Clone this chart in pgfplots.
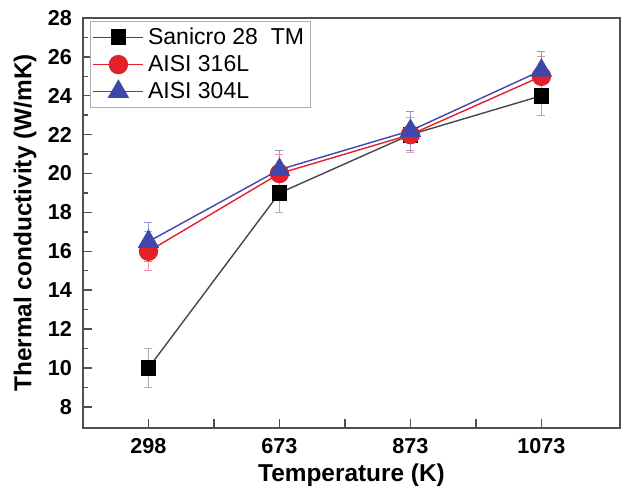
\documentclass[border=0pt]{standalone}
\usepackage{fontspec}
\setmainfont{Liberation Sans}
\setsansfont{Liberation Sans}
\usepackage{pgfplots}
\pgfplotsset{compat=1.18}
\definecolor{cred}{RGB}{228,32,40}
\definecolor{cblue}{RGB}{62,72,170}
\definecolor{lred}{RGB}{240,150,160}
\definecolor{lblue}{RGB}{150,150,210}
\definecolor{lgray}{RGB}{175,175,175}
\definecolor{axc}{RGB}{80,80,80}
\begin{document}
\begin{tikzpicture}
\begin{axis}[
  name=ax,
  scale only axis,
  width=268.5pt, height=205pt,
  xmin=-0.5, xmax=3.6,
  ymin=6.91, ymax=28,
  xtick={0,1,2,3},
  xticklabels={298,673,873,1073},
  extra x ticks={0.5,1.5,2.5},
  extra x tick labels={},
  ytick={8,10,...,28},
  minor ytick={9,11,...,27},
  xtick pos=bottom, ytick pos=left,
  tick style={axc, line width=0.7pt},
  tick align=inside,
  major tick length=4.5pt, minor tick length=2.5pt,
  axis line style={axc, line width=0.8pt},
  tick label style={font=\bfseries\fontsize{10.8}{12}\selectfont},
  xticklabel style={yshift=-1.5pt},
  yticklabel style={xshift=-2pt},
  /pgf/number format/assume math mode=true,
  xlabel={\bfseries Temperature (K)},
  ylabel={\bfseries Thermal conductivity (W/mK)},
  label style={font=\bfseries\fontsize{12.2}{14}\selectfont},
  xlabel style={at={(axis description cs:0.5,-0.1146)}, anchor=center},
  ylabel style={at={(axis description cs:-0.108,0.5)}, anchor=center, rotate=0},
  legend style={at={(axis cs:-0.445,27.85)}, anchor=north west, draw=lgray, line width=0.5pt,
    font=\fontsize{11.5}{13}\selectfont, row sep=0pt, inner sep=1pt,
    nodes={inner sep=2pt}},
  legend cell align=left,
  legend image code/.code={\draw[#1] (0pt,0pt) -- (25pt,0pt); \draw[#1, mark repeat=2, mark phase=2] plot coordinates {(0pt,0pt) (12.5pt,0pt) (25pt,0pt)};},
]
\addplot[black!72, line width=0.7pt, mark=square*, mark size=3.6pt, mark options={fill=black, draw=black, solid},
  error bars/.cd, y dir=both, y explicit,
  error bar style={lgray, line width=0.5pt},
  error mark options={rotate=90, lgray, mark size=2pt}]
  coordinates {(0,10) +- (0,1) (1,19) +- (0,1) (2,22) +- (0,0.3) (3,24) +- (0,1)};
\addlegendentry{Sanicro 28\ \ TM}
\addplot[cred, line width=0.7pt, mark=*, mark size=4.5pt, mark options={fill=cred, draw=cred, solid},
  error bars/.cd, y dir=both, y explicit,
  error bar style={lred, line width=0.5pt},
  error mark options={rotate=90, lred, mark size=2pt}]
  coordinates {(0,16) +- (0,1) (1,20) +- (0,1) (2,22) +- (0,0.9) (3,25) +- (0,1)};
\addlegendentry{AISI 316L}
\addplot[cblue, line width=0.7pt, mark=triangle*, mark size=5.5pt, mark options={fill=cblue, draw=cblue, solid},
  error bars/.cd, y dir=both, y explicit,
  error bar style={lblue, line width=0.5pt},
  error mark options={rotate=90, lblue, mark size=2pt}]
  coordinates {(0,16.5) +- (0,1) (1,20.2) +- (0,1) (2,22.2) +- (0,1) (3,25.3) +- (0,1)};
\addlegendentry{AISI 304L}
\end{axis}
\pgfresetboundingbox
\path ([shift={(-41.5pt,-34pt)}]ax.south west) rectangle ([shift={(2.5pt,9pt)}]ax.north east);
\end{tikzpicture}
\end{document}
